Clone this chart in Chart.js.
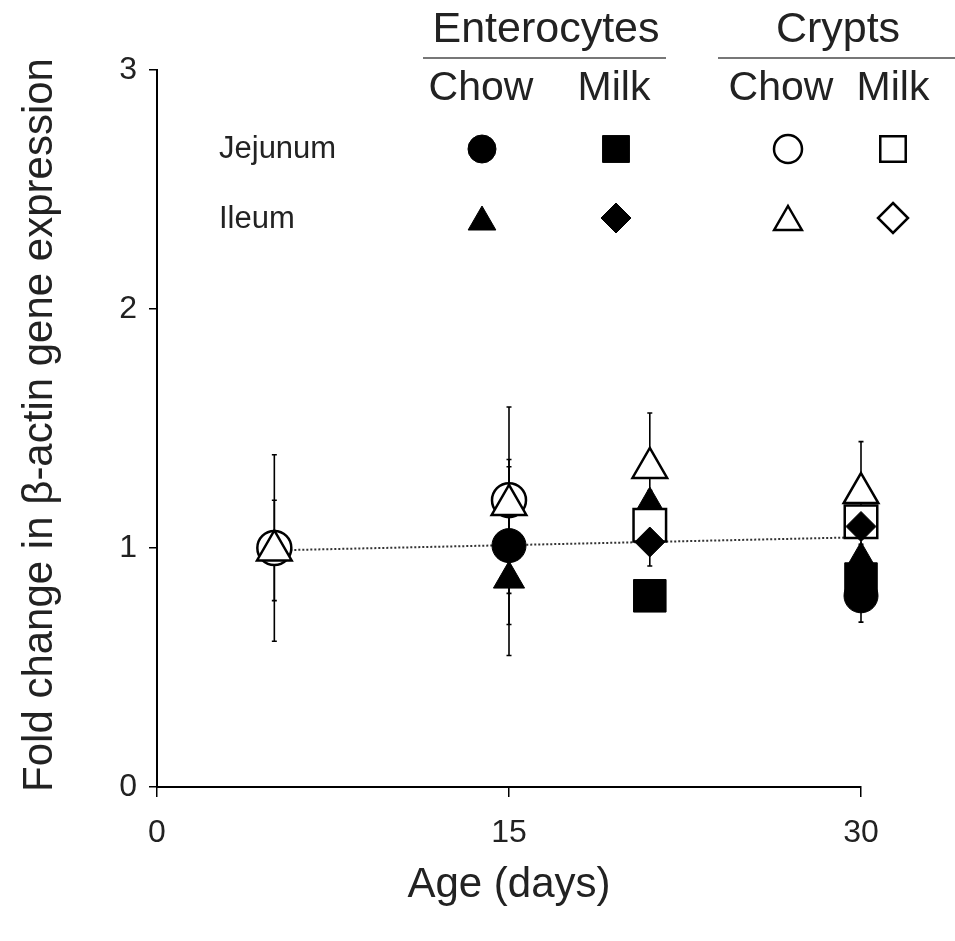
<!DOCTYPE html>
<html>
<head>
<meta charset="utf-8">
<title>Fold change in β-actin gene expression</title>
<script src="https://cdn.jsdelivr.net/npm/chart.js@4/dist/chart.umd.min.js"></script>
<style>
  html, body { margin: 0; padding: 0; background: #fff; }
  #wrap { width: 955px; height: 941px; }
</style>
</head>
<body>
<div id="wrap"><canvas id="chart" width="955" height="941"></canvas></div>
<script>
// sampling ages (days)
const days = [5, 15, 21, 30];

// enterocytes (filled markers)
const entChowJejunum = [null, 1.01, null, 0.80];
const entChowIleum   = [null, 0.87, 1.18, 0.95];
const entMilkJejunum = [null, null, 0.80, 0.87];
const entMilkIleum   = [null, null, 1.025, 1.09];

// crypts (open markers)
const cryChowJejunum = [1.00, 1.20, null, null];
const cryChowIleum   = [0.99, 1.18, 1.335, 1.23];
const cryMilkJejunum = [null, null, 1.095, 1.11];

// error (+/-) for each value above
const entChowJejunumErr = [null, 0.33, null, 0.11];
const entChowIleumErr   = [null, 0.32, 0.06, 0.05];
const entMilkJejunumErr = [null, null, 0.05, 0.05];
const entMilkIleumErr   = [null, null, 0.10, 0.05];
const cryChowJejunumErr = [0.39, 0.39, null, null];
const cryChowIleumErr   = [0.21, 0.19, 0.23, 0.215];
const cryMilkJejunumErr = [null, null, 0.08, 0.06];

// dotted trend line
const trendDays = [5, 30];
const trendValues = [0.99, 1.045];

const yTicks = [0, 1, 2, 3];
const xTicks = [0, 15, 30];

const FONT = '"Liberation Sans", Arial, sans-serif';

function points(vals, errs) {
    const out = [];
    vals.forEach((v, i) => {
        if (v !== null) out.push({ x: days[i], y: v, err: errs[i] });
    });
    return out;
}

function series(label, vals, errs, style, filled, radius) {
    return {
        label: label,
        data: points(vals, errs),
        pointStyle: style,
        pointRadius: radius,
        pointBackgroundColor: filled ? '#000' : '#fff',
        pointBorderColor: '#000',
        pointBorderWidth: filled ? 1 : 2.5,
        showLine: false,
        clip: false
    };
}

// vertical error bars, drawn under the markers
const errorBars = {
    id: 'errorBars',
    beforeDatasetsDraw(chart) {
        const ctx = chart.ctx;
        const xs = chart.scales.x, ys = chart.scales.y;
        ctx.save();
        ctx.strokeStyle = '#000';
        ctx.lineWidth = 1.6;
        chart.data.datasets.forEach((ds) => {
            ds.data.forEach((p) => {
                if (p.err == null) return;
                const px = xs.getPixelForValue(p.x);
                const top = ys.getPixelForValue(p.y + p.err);
                const bot = ys.getPixelForValue(p.y - p.err);
                ctx.beginPath();
                ctx.moveTo(px, top);
                ctx.lineTo(px, bot);
                ctx.moveTo(px - 2.5, top);
                ctx.lineTo(px + 2.5, top);
                ctx.moveTo(px - 2.5, bot);
                ctx.lineTo(px + 2.5, bot);
                ctx.stroke();
            });
        });
        ctx.restore();
    }
};

function marker(ctx, style, x, y, r, filled) {
    ctx.beginPath();
    if (style === 'circle') {
        ctx.arc(x, y, r, 0, Math.PI * 2);
    } else if (style === 'rect') {
        const s = r * Math.SQRT1_2;
        ctx.rect(x - s, y - s, 2 * s, 2 * s);
    } else if (style === 'triangle') {
        ctx.moveTo(x, y - r);
        ctx.lineTo(x + r * 0.866, y + r / 2);
        ctx.lineTo(x - r * 0.866, y + r / 2);
        ctx.closePath();
    } else if (style === 'rectRot') {
        ctx.moveTo(x, y - r);
        ctx.lineTo(x + r, y);
        ctx.lineTo(x, y + r);
        ctx.lineTo(x - r, y);
        ctx.closePath();
    }
    ctx.fillStyle = filled ? '#000' : '#fff';
    ctx.fill();
    ctx.lineWidth = filled ? 1 : 2.5;
    ctx.strokeStyle = '#000';
    ctx.stroke();
}

// key block at the top plus both axis titles
const keyBlock = {
    id: 'keyBlock',
    afterDraw(chart) {
        const ctx = chart.ctx;
        const area = chart.chartArea;
        ctx.save();
        ctx.textBaseline = 'middle';
        ctx.textAlign = 'center';
        ctx.fillStyle = '#222';

        ctx.font = '43px ' + FONT;
        ctx.fillText('Enterocytes', 546, 30);
        ctx.fillText('Crypts', 838, 30);
        ctx.strokeStyle = '#777';
        ctx.lineWidth = 2;
        ctx.beginPath();
        ctx.moveTo(423, 58); ctx.lineTo(666, 58);
        ctx.moveTo(718, 58); ctx.lineTo(955, 58);
        ctx.stroke();

        ctx.font = '41px ' + FONT;
        ctx.fillText('Chow', 481, 89);
        ctx.fillText('Milk', 614, 89);
        ctx.fillText('Chow', 781, 89);
        ctx.fillText('Milk', 893, 89);

        ctx.textAlign = 'left';
        ctx.font = '31px ' + FONT;
        ctx.fillText('Jejunum', 219, 149);
        ctx.fillText('Ileum', 219, 219);

        marker(ctx, 'circle', 482, 149, 14, true);
        marker(ctx, 'rect', 616, 149, 19, true);
        marker(ctx, 'circle', 788, 149, 14, false);
        marker(ctx, 'rect', 893, 149, 18, false);
        marker(ctx, 'triangle', 482, 222, 16, true);
        marker(ctx, 'rectRot', 616, 218, 15, true);
        marker(ctx, 'triangle', 788, 222, 16, false);
        marker(ctx, 'rectRot', 893, 218, 15, false);

        // axis titles
        ctx.fillStyle = '#222';
        ctx.textAlign = 'center';
        ctx.font = '42px ' + FONT;
        ctx.fillText('Age (days)', (area.left + area.right) / 2, 885);
        ctx.translate(40, 425);
        ctx.rotate(-Math.PI / 2);
        ctx.fillText('Fold change in β-actin gene expression', 0, 0);
        ctx.restore();
    }
};

const trendData = trendDays.map((d, i) => ({ x: d, y: trendValues[i] }));

new Chart(document.getElementById('chart'), {
    type: 'scatter',
    data: {
        datasets: [
            series('Enterocytes Milk Ileum', entMilkIleum, entMilkIleumErr, 'rectRot', true, 15),
            series('Crypts Milk Jejunum', cryMilkJejunum, cryMilkJejunumErr, 'rect', false, 23),
            series('Crypts Chow Ileum', cryChowIleum, cryChowIleumErr, 'triangle', false, 20),
            series('Crypts Chow Jejunum', cryChowJejunum, cryChowJejunumErr, 'circle', false, 17),
            series('Enterocytes Chow Jejunum', entChowJejunum, entChowJejunumErr, 'circle', true, 17),
            series('Enterocytes Chow Ileum', entChowIleum, entChowIleumErr, 'triangle', true, 18),
            series('Enterocytes Milk Jejunum', entMilkJejunum, entMilkJejunumErr, 'rect', true, 23),
            {
                type: 'line',
                label: 'trend',
                data: trendData,
                borderColor: '#333',
                borderWidth: 2,
                borderDash: [2, 2],
                pointRadius: 0,
                fill: false,
                clip: false
            }
        ]
    },
    options: {
        responsive: false,
        animation: false,
        layout: { padding: { top: 70, right: 94, left: 0, bottom: 0 } },
        plugins: { legend: { display: false }, tooltip: { enabled: false } },
        scales: {
            x: {
                type: 'linear',
                min: xTicks[0],
                max: xTicks[xTicks.length - 1],
                afterBuildTicks: (scale) => { scale.ticks = xTicks.map(v => ({ value: v })); },
                ticks: { color: '#222', font: { family: FONT, size: 32 }, padding: 17 },
                grid: { drawOnChartArea: false, tickLength: 10, color: '#000', lineWidth: 1.5 },
                border: { color: '#000', width: 2 },
                afterFit: (scale) => { scale.height = 154; }
            },
            y: {
                type: 'linear',
                min: yTicks[0],
                max: yTicks[yTicks.length - 1],
                afterBuildTicks: (scale) => { scale.ticks = yTicks.map(v => ({ value: v })); },
                ticks: { color: '#222', font: { family: FONT, size: 32 }, padding: 12 },
                grid: { drawOnChartArea: false, tickLength: 8, color: '#000', lineWidth: 1.5 },
                border: { color: '#000', width: 2 },
                afterFit: (scale) => { scale.width = 157; }
            }
        }
    },
    plugins: [errorBars, keyBlock]
});
</script>
</body>
</html>
